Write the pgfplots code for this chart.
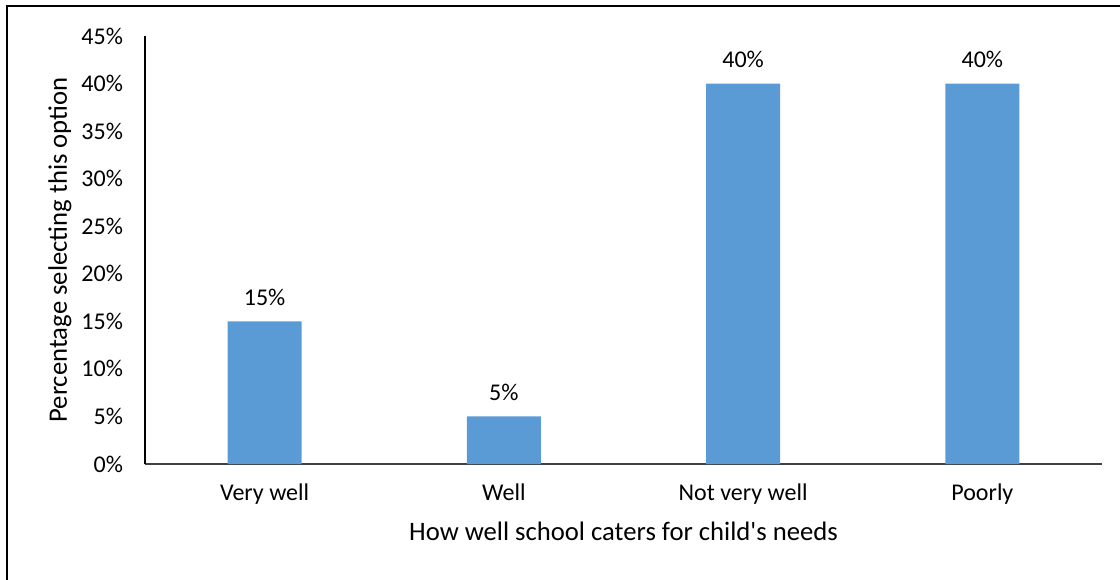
\documentclass[border=0pt]{standalone}
\usepackage{pgfplots}
\pgfplotsset{compat=1.18}
\usepackage{fontspec}
\setmainfont{Carlito}
\definecolor{barblue}{HTML}{5B9BD5}
\begin{document}
\begin{tikzpicture}
\useasboundingbox (0,0) rectangle (840pt,434.25pt);
\draw[line width=1.5pt] (5.25pt,-5pt) -- (5.25pt,429.75pt) -- (845pt,429.75pt);
\begin{axis}[
  at={(108.75pt,86.25pt)}, anchor=south west,
  scale only axis, width=717.75pt, height=321pt,
  xmin=-0.5, xmax=3.5, ymin=0, ymax=45,
  axis x line*=bottom, axis y line*=left,
  x axis line style={-, draw=black!75, line width=0.9pt},
  y axis line style={-, draw=black, line width=0.9pt},
  xtick={0,1,2,3},
  xticklabels={Very well, Well, Not very well, Poorly},
  ytick={0,5,...,45},
  yticklabel={\pgfmathprintnumber{\tick}\%},
  major tick length=0pt,
  tick style={draw=none},
  every tick label/.append style={font=\fontsize{18}{21}\selectfont, text=black},
  yticklabel style={anchor=east, xshift=-13pt},
  xticklabel style={anchor=base, yshift=-27.5pt},
  xlabel={How well school caters for child\textquotesingle s needs},
  ylabel={Percentage selecting this option},
  xlabel style={font=\fontsize{20}{24}\selectfont, anchor=base, at={(axis description cs:0.5,0)}, yshift=-57.5pt},
  ylabel style={font=\fontsize{20}{24}\selectfont, anchor=center, at={(axis description cs:-0.0888,0.5)}},
  /pgf/number format/assume math mode=true,
  ybar, bar width=55.5pt,
  nodes near coords={\pgfmathprintnumber{\pgfplotspointmeta}\%},
  nodes near coords style={font=\fontsize{18}{21}\selectfont, text=black, anchor=center, yshift=18pt},
  clip=false,
]
\addplot[fill=barblue, draw=none] coordinates {(0,15) (1,5) (2,40) (3,40)};
\end{axis}
\end{tikzpicture}
\end{document}
